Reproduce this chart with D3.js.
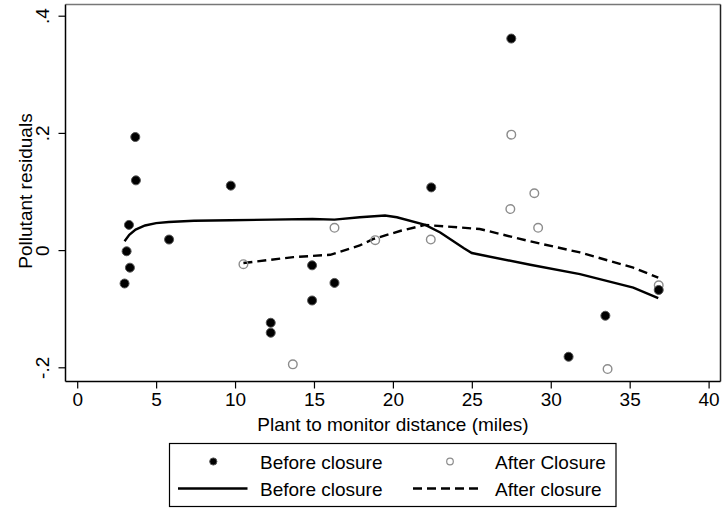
<!DOCTYPE html>
<html>
<head>
<meta charset="utf-8">
<script src="https://cdn.jsdelivr.net/npm/d3@7"></script>
<style>
  body { margin: 0; background: #fff; }
  text { font-family: "Liberation Sans", Arial, sans-serif; fill: #000; }
</style>
</head>
<body>
<svg id="chart" width="722" height="508"></svg>
<script>
// scatter points, [distance, residual]
const beforePts = [
  [3.00, -0.057], [3.13, -0.002], [3.34, -0.030], [3.28, 0.043], [3.68, 0.193],
  [3.72, 0.119], [5.82, 0.018], [9.73, 0.110], [12.26, -0.124], [12.26, -0.141],
  [14.88, -0.026], [14.88, -0.086], [16.30, -0.056], [22.43, 0.107], [27.50, 0.361],
  [31.13, -0.182], [33.46, -0.112], [36.84, -0.068]
];
const afterPts = [
  [10.53, -0.024], [13.66, -0.195], [16.30, 0.038], [18.88, 0.017], [22.40, 0.018],
  [27.44, 0.070], [27.50, 0.197], [28.96, 0.097], [29.20, 0.038], [33.60, -0.203],
  [36.84, -0.060]
];
// smoothed fits
const beforeFit = [
  [3.00, 0.015], [3.3, 0.026], [3.7, 0.035], [4.3, 0.042], [5.0, 0.046], [5.8, 0.048],
  [7.4, 0.050], [9.7, 0.051], [12.3, 0.052], [14.9, 0.053], [16.3, 0.052], [17.9, 0.056],
  [19.5, 0.059], [20.25, 0.056], [22.05, 0.043], [23.0, 0.030], [24.5, 0.003], [25.0, -0.005],
  [28.7, -0.025], [31.85, -0.041], [35.23, -0.064], [36.81, -0.082]
];
const afterFit = [
  [10.53, -0.022], [13.69, -0.012], [16.03, -0.008], [17.9, 0.008], [18.77, 0.019],
  [20.5, 0.033], [22.05, 0.043], [25.5, 0.036], [28.69, 0.015], [31.85, -0.004],
  [35.23, -0.030], [36.81, -0.047]
];
const xTicks = [0, 5, 10, 15, 20, 25, 30, 35, 40];
const yTicks = [-0.2, 0, 0.2, 0.4];
const yTickLabels = ["-.2", "0", ".2", ".4"];
const legendMarks = ["Before closure", "After Closure"];
const legendLines = ["Before closure", "After closure"];

const svg = d3.select("#chart");
const plot = { left: 65.5, right: 720.5, top: 4.5, bottom: 381.5 };

const x = d3.scaleLinear().domain([0, 40]).range([77.2, 708.6]);
const y = d3.scaleLinear().domain([-0.2, 0.4]).range([367.3, 15.7]);

// plot region border
svg.append("line").attr("x1", plot.left).attr("x2", plot.right)
  .attr("y1", plot.top).attr("y2", plot.top).attr("stroke", "#777").attr("stroke-width", 1.5);
svg.append("line").attr("x1", plot.right).attr("x2", plot.right)
  .attr("y1", plot.top).attr("y2", plot.bottom).attr("stroke", "#222").attr("stroke-width", 1.5);

// axes
const xAxis = svg.append("g")
  .attr("transform", `translate(0,${plot.bottom})`)
  .call(d3.axisBottom(x).tickValues(xTicks).tickSize(7).tickPadding(4).tickSizeOuter(0));
xAxis.select(".domain").attr("d", `M${plot.left},0H${plot.right}`).attr("stroke-width", 1.5);
xAxis.selectAll(".tick line").attr("stroke-width", 1.2);
xAxis.selectAll(".tick text").attr("font-size", 19).attr("font-family", "Liberation Sans, Arial, sans-serif");

const yAxis = svg.append("g")
  .attr("transform", `translate(${plot.left},0)`)
  .call(d3.axisLeft(y).tickValues(yTicks).tickSize(7).tickSizeOuter(0)
    .tickFormat((d, i) => yTickLabels[i]));
yAxis.select(".domain").attr("d", `M0,${plot.bottom}V${plot.top}`).attr("stroke-width", 1.5);
yAxis.selectAll(".tick line").attr("stroke-width", 1.2);
yAxis.selectAll(".tick text")
  .attr("font-size", 19).attr("font-family", "Liberation Sans, Arial, sans-serif")
  .attr("x", null).attr("dy", null).attr("text-anchor", "middle")
  .attr("transform", "translate(-17,0) rotate(-90)");

// axis titles
svg.append("text").attr("x", 393).attr("y", 431).attr("text-anchor", "middle")
  .attr("font-size", 19).text("Plant to monitor distance (miles)");
svg.append("text").attr("text-anchor", "middle").attr("font-size", 19)
  .attr("transform", "translate(32,191) rotate(-90)")
  .text("Pollutant residuals");

// fitted lines
const line = d3.line().x(d => x(d[0])).y(d => y(d[1]));
svg.append("path").datum(beforeFit).attr("d", line)
  .attr("fill", "none").attr("stroke", "#000").attr("stroke-width", 2.4);
svg.append("path").datum(afterFit).attr("d", line)
  .attr("fill", "none").attr("stroke", "#000").attr("stroke-width", 2.4)
  .attr("stroke-dasharray", "9,5");

// points
svg.append("g").selectAll("circle").data(afterPts).join("circle")
  .attr("cx", d => x(d[0])).attr("cy", d => y(d[1])).attr("r", 4.3)
  .attr("fill", "none").attr("stroke", "#8c8c8c").attr("stroke-width", 1.4);
svg.append("g").selectAll("circle").data(beforePts).join("circle")
  .attr("cx", d => x(d[0])).attr("cy", d => y(d[1])).attr("r", 4.5)
  .attr("fill", "#000").attr("stroke", "#555").attr("stroke-width", 1);

// legend
const lg = svg.append("g");
lg.append("rect").attr("x", 169.5).attr("y", 443.5).attr("width", 446.5).attr("height", 63)
  .attr("fill", "#fff").attr("stroke", "#000").attr("stroke-width", 1.2);
lg.append("circle").attr("cx", 213.3).attr("cy", 461.5).attr("r", 3.6)
  .attr("fill", "#000").attr("stroke", "#555").attr("stroke-width", 1);
lg.append("circle").attr("cx", 450).attr("cy", 461.5).attr("r", 3.3)
  .attr("fill", "none").attr("stroke", "#8c8c8c").attr("stroke-width", 1.2);
lg.append("line").attr("x1", 178).attr("x2", 247.5).attr("y1", 488.5).attr("y2", 488.5)
  .attr("stroke", "#000").attr("stroke-width", 2.4);
lg.append("line").attr("x1", 413).attr("x2", 483).attr("y1", 488.5).attr("y2", 488.5)
  .attr("stroke", "#000").attr("stroke-width", 2.4).attr("stroke-dasharray", "9,5");
lg.selectAll(".lm").data(legendMarks).join("text").attr("class", "lm")
  .attr("x", (d, i) => [260, 495][i]).attr("y", 468.5).attr("font-size", 19).text(d => d);
lg.selectAll(".ll").data(legendLines).join("text").attr("class", "ll")
  .attr("x", (d, i) => [260, 495][i]).attr("y", 495.5).attr("font-size", 19).text(d => d);
</script>
</body>
</html>
